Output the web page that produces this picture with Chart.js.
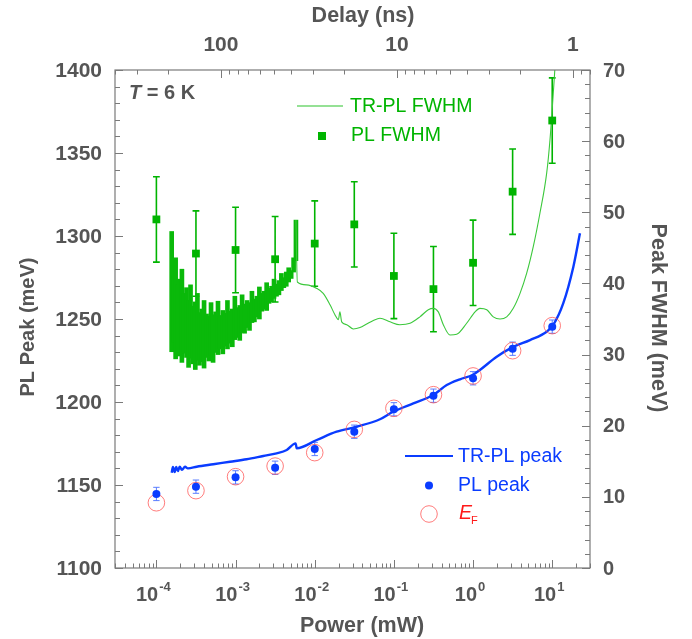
<!DOCTYPE html>
<html lang="en">
<head>
<meta charset="UTF-8" />
<title>PL peak and FWHM vs excitation power</title>
<script src="https://cdn.jsdelivr.net/npm/chart.js"></script>
<style>
  body { margin: 0; background: #fff; }
  #wrap { width: 692px; height: 639px; position: relative; }
</style>
</head>
<body>
<div id="wrap"><canvas id="chart"></canvas></div>

<script>
// steady-state PL, one point per half decade of power (mW)
const plPower   = [1e-4, 3.16e-4, 1e-3, 3.16e-3, 1e-2, 3.16e-2, 0.1, 0.316, 1, 3.16, 10];
const plFwhm    = [49.0, 44.2, 44.7, 43.4, 45.6, 48.3, 41.05, 39.2, 42.9, 52.9, 62.9];
const plFwhmErr = [6, 6, 6, 6, 6, 6, 6, 6, 6, 6, 6];
const plPeak    = [1144.6, 1149.0, 1154.6, 1160.4, 1171.7, 1182.1, 1195.6, 1203.8, 1214.3, 1232.1, 1245.4];
const plPeakErr = [4, 4, 4, 4, 4, 4, 4, 4, 4, 4, 4];
const fermiE    = [1139.3, 1146.6, 1155.0, 1161.4, 1169.5, 1183.5, 1196.2, 1204.4, 1215.7, 1230.9, 1246.0];

// TR-PL FWHM, noisy long-delay part kept as upper / lower envelope
const bandPower = [1.56e-4, 1.65e-4, 1.75e-4, 1.85e-4, 1.95e-4, 2.1e-4, 2.25e-4, 2.4e-4, 2.55e-4, 2.7e-4,
                   2.9e-4, 3.1e-4, 3.3e-4, 3.5e-4, 3.75e-4, 4.0e-4, 4.3e-4, 4.6e-4, 4.9e-4, 5.2e-4,
                   5.6e-4, 6.0e-4, 6.4e-4, 6.9e-4, 7.4e-4, 7.9e-4, 8.5e-4, 9.1e-4, 9.8e-4, 1.05e-3,
                   1.13e-3, 1.21e-3, 1.30e-3, 1.40e-3, 1.50e-3, 1.61e-3, 1.73e-3, 1.86e-3, 2.0e-3, 2.15e-3,
                   2.3e-3, 2.47e-3, 2.65e-3, 2.85e-3, 3.06e-3, 3.29e-3, 3.53e-3, 3.79e-3, 4.07e-3, 4.37e-3,
                   4.69e-3, 5.04e-3, 5.41e-3, 5.79e-3];
const bandUpper = [47.3, 41.0, 43.6, 39.8, 40.6, 42.0, 38.6, 39.4, 37.6, 39.8,
                   36.8, 37.4, 38.6, 35.9, 36.4, 37.6, 35.7, 35.4, 37.3, 35.6,
                   36.0, 37.5, 35.5, 36.2, 35.8, 37.6, 36.1, 36.4, 38.2, 36.6,
                   36.9, 38.4, 37.1, 37.6, 37.3, 38.9, 37.8, 38.2, 39.5, 38.6,
                   38.9, 40.1, 39.3, 39.6, 40.6, 39.9, 40.4, 41.4, 40.8, 41.6,
                   42.2, 41.8, 43.6, 48.9];
const bandLower = [30.4, 31.8, 29.4, 30.6, 29.8, 28.9, 30.2, 29.6, 28.2, 29.5,
                   28.7, 27.9, 29.2, 28.5, 29.0, 28.1, 29.6, 29.1, 29.9, 28.9,
                   30.3, 30.0, 30.8, 30.1, 31.2, 30.8, 31.6, 31.1, 32.1, 32.4,
                   32.0, 33.1, 33.0, 33.8, 33.4, 34.5, 34.6, 35.3, 35.0, 36.1,
                   36.4, 36.2, 37.2, 37.4, 37.9, 38.2, 38.4, 39.0, 39.4, 39.6,
                   40.2, 40.7, 41.6, 43.2];

// TR-PL FWHM, short-delay part
const trFwhmPower = [5.79e-3, 6.03e-3, 7.91e-3, 0.0106, 0.0128, 0.0156, 0.0180, 0.0199, 0.0208, 0.0219,
                     0.0254, 0.0307, 0.0373, 0.0453, 0.0550, 0.0667, 0.0893, 0.119, 0.160, 0.213,
                     0.272, 0.314, 0.364, 0.421, 0.511, 0.621, 0.830, 1.06, 1.22, 1.49,
                     1.80, 2.19, 2.66, 3.22, 3.92, 4.75, 5.77, 7.00, 8.51, 9.37,
                     10.3, 10.8, 11.2];
const trFwhmValue = [48.9, 40.2, 39.8, 39.3, 38.6, 37.0, 35.6, 34.9, 36.0, 34.6,
                     34.2, 33.6, 33.8, 34.3, 34.8, 35.1, 34.6, 34.2, 34.4, 35.3,
                     36.3, 36.5, 36.0, 34.2, 32.75, 32.85, 34.4, 36.0, 36.5, 36.3,
                     35.3, 35.0, 35.3, 36.5, 38.6, 41.4, 45.2, 49.9, 55.5, 60.2,
                     66.7, 70.2, 74.0];

// TR-PL peak position
const trPeakPower = [1.56e-4, 1.62e-4, 1.70e-4, 1.78e-4, 1.87e-4, 1.97e-4, 2.10e-4, 2.30e-4, 2.50e-4, 3.23e-4,
                     5.23e-4, 8.51e-4, 1.38e-3, 2.24e-3, 3.30e-3, 4.43e-3, 5.74e-3, 5.92e-3, 0.0106, 0.0189,
                     0.0339, 0.0667, 0.0982, 0.176, 0.314, 0.465, 0.684, 0.989, 1.22, 1.99,
                     3.13, 5.24, 8.51, 10.3, 13.8, 18.5, 22.4];
const trPeakValue = [1157.4, 1160.9, 1157.8, 1160.9, 1158.4, 1161.0, 1159.1, 1161.0, 1160.0, 1161.0,
                     1162.5, 1164.0, 1165.5, 1167.5, 1169.1, 1171.1, 1175.1, 1172.1, 1177.1, 1182.1,
                     1185.1, 1189.6, 1194.2, 1199.2, 1204.2, 1210.2, 1213.7, 1216.3, 1219.3, 1227.3,
                     1232.9, 1237.3, 1242.3, 1246.4, 1259.5, 1281.5, 1301.6];

// axis ticks
const peakTicks  = [1100, 1150, 1200, 1250, 1300, 1350, 1400];
const fwhmTicks  = [0, 10, 20, 30, 40, 50, 60, 70];
const powerTicks = [1e-4, 1e-3, 1e-2, 1e-1, 1, 10];
const powerExps  = ['-4', '-3', '-2', '-1', '0', '1'];
const delayTicks = [100, 10, 1];

const FONT = '"Liberation Sans", Arial, Helvetica, sans-serif';
const GREY = '#555';
const GREEN = '#00b400';
const BLUE = '#0a3cff';

const pts = (xs, ys) => xs.map((x, i) => ({ x: x, y: ys[i] }));

function errorBars(chart, xs, ys, errs, yId, color, width, cap) {
  const ctx = chart.ctx, sx = chart.scales.x, sy = chart.scales[yId];
  ctx.strokeStyle = color;
  ctx.lineWidth = width;
  ctx.beginPath();
  xs.forEach((v, i) => {
    const x = sx.getPixelForValue(v);
    const y1 = sy.getPixelForValue(ys[i] + errs[i]);
    const y2 = sy.getPixelForValue(ys[i] - errs[i]);
    ctx.moveTo(x, y1); ctx.lineTo(x, y2);
    ctx.moveTo(x - cap, y1); ctx.lineTo(x + cap, y1);
    ctx.moveTo(x - cap, y2); ctx.lineTo(x + cap, y2);
  });
  ctx.stroke();
}

function logMinors(min, max, e0, e1) {
  const out = [];
  for (let e = e0; e <= e1; e++) {
    for (let m = 2; m <= 9; m++) {
      const v = m * Math.pow(10, e);
      if (v >= min * 0.999 && v <= max * 1.001) out.push(v);
    }
  }
  return out;
}

function range(a, b, step) {
  const out = [];
  for (let v = a; v <= b + 1e-9; v += step) out.push(v);
  return out;
}

const framePlugin = {
  id: 'frameAxes',
  beforeDatasetsDraw(chart) {
    const ctx = chart.ctx;
    ctx.save();
    errorBars(chart, plPower, plFwhm, plFwhmErr, 'y2', GREEN, 1.6, 3.4);
    errorBars(chart, plPower, plPeak, plPeakErr, 'y', '#5a7dff', 1, 3.2);
    ctx.restore();
  },
  afterDatasetsDraw(chart) {
    const { ctx, chartArea: a, scales } = chart;
    const sx = scales.x, st = scales.xTop, sy = scales.y, s2 = scales.y2;
    ctx.save();

    // frame
    ctx.strokeStyle = '#7a7a7a';
    ctx.lineWidth = 1.2;
    ctx.strokeRect(a.left, a.top, a.right - a.left, a.bottom - a.top);

    // inward tick marks
    ctx.lineWidth = 1;
    ctx.beginPath();
    const hTick = (s, v, y, dir, len) => {
      const x = Math.round(s.getPixelForValue(v)) + 0.5;
      ctx.moveTo(x, y); ctx.lineTo(x, y + dir * len);
    };
    const vTick = (s, v, x, dir, len) => {
      const y = Math.round(s.getPixelForValue(v)) + 0.5;
      ctx.moveTo(x, y); ctx.lineTo(x + dir * len, y);
    };
    powerTicks.forEach(v => hTick(sx, v, a.bottom, -1, 8));
    logMinors(3e-5, 30, -5, 1).forEach(v => hTick(sx, v, a.bottom, -1, 4.5));
    delayTicks.forEach(v => hTick(st, v, a.top, 1, 8));
    logMinors(0.8, 400, -1, 2).forEach(v => hTick(st, v, a.top, 1, 4.5));
    peakTicks.forEach(v => vTick(sy, v, a.left, 1, 8));
    range(1100, 1400, 10).forEach(v => vTick(sy, v, a.left, 1, 5));
    fwhmTicks.forEach(v => vTick(s2, v, a.right, -1, 8));
    range(0, 70, 2).forEach(v => vTick(s2, v, a.right, -1, 5));
    ctx.stroke();

    // tick labels
    ctx.fillStyle = GREY;
    ctx.textBaseline = 'middle';
    ctx.font = 'bold 21px ' + FONT;
    ctx.textAlign = 'right';
    peakTicks.forEach(v => ctx.fillText(String(v), a.left - 13, sy.getPixelForValue(v) + 1));
    ctx.font = 'bold 20px ' + FONT;
    ctx.textAlign = 'left';
    fwhmTicks.forEach(v => ctx.fillText(String(v), a.right + 13, s2.getPixelForValue(v) + 1));
    ctx.font = 'bold 21px ' + FONT;
    ctx.textAlign = 'center';
    delayTicks.forEach(v => ctx.fillText(String(v), st.getPixelForValue(v), 45));

    ctx.textAlign = 'left';
    powerTicks.forEach((v, i) => {
      ctx.font = 'bold 20px ' + FONT;
      const w1 = ctx.measureText('10').width;
      ctx.font = 'bold 13px ' + FONT;
      const w2 = ctx.measureText(powerExps[i]).width;
      const x0 = sx.getPixelForValue(v) - (w1 + w2 + 1) / 2 - 3;
      ctx.font = 'bold 20px ' + FONT;
      ctx.fillText('10', x0, 595);
      ctx.font = 'bold 13px ' + FONT;
      ctx.fillText(powerExps[i], x0 + w1 + 1, 587);
    });

    // axis titles
    ctx.font = 'bold 21.5px ' + FONT;
    ctx.textAlign = 'center';
    ctx.fillText('Delay (ns)', 363, 16);
    ctx.fillText('Power (mW)', 362, 626);
    ctx.save();
    ctx.font = 'bold 20px ' + FONT;
    ctx.translate(28, 327);
    ctx.rotate(-Math.PI / 2);
    ctx.fillText('PL Peak (meV)', 0, 0);
    ctx.restore();
    ctx.save();
    ctx.translate(658, 318);
    ctx.rotate(Math.PI / 2);
    ctx.fillText('Peak FWHM (meV)', 0, 0);
    ctx.restore();

    // temperature note
    ctx.textAlign = 'left';
    ctx.font = 'italic bold 20px ' + FONT;
    ctx.fillText('T', 129, 93);
    const tw = ctx.measureText('T').width;
    ctx.font = 'bold 20px ' + FONT;
    ctx.fillText(' = 6 K', 129 + tw, 93);

    // FWHM legend
    ctx.font = '19.5px ' + FONT;
    ctx.strokeStyle = '#2cc42c';
    ctx.lineWidth = 1.1;
    ctx.beginPath(); ctx.moveTo(297, 106); ctx.lineTo(343, 106); ctx.stroke();
    ctx.fillStyle = GREEN;
    ctx.fillText('TR-PL FWHM', 350, 107);
    ctx.fillRect(318, 132, 8, 8);
    ctx.fillText('PL FWHM', 351, 136);

    // peak legend
    ctx.strokeStyle = BLUE;
    ctx.lineWidth = 2.2;
    ctx.beginPath(); ctx.moveTo(405, 456); ctx.lineTo(453, 456); ctx.stroke();
    ctx.fillStyle = BLUE;
    ctx.fillText('TR-PL peak', 458, 457);
    ctx.beginPath(); ctx.arc(429, 485.5, 4, 0, Math.PI * 2); ctx.fill();
    ctx.fillText('PL peak', 458, 486);
    ctx.strokeStyle = 'rgba(255,80,80,0.75)';
    ctx.lineWidth = 1;
    ctx.beginPath(); ctx.arc(429, 514, 8.3, 0, Math.PI * 2); ctx.stroke();
    ctx.fillStyle = '#ff1a1a';
    ctx.font = 'italic 19.5px ' + FONT;
    ctx.fillText('E', 459, 514);
    ctx.font = '11px ' + FONT;
    ctx.fillText('F', 471, 521);

    ctx.restore();
  }
};

new Chart(document.getElementById('chart'), {
  type: 'line',
  data: {
    datasets: [
      {
        // noisy band: one floating bar per sample, spanning lower to upper
        type: 'bar', label: 'TR-PL FWHM band',
        data: pts(bandPower, bandLower.map((lo, i) => [lo, bandUpper[i]])),
        yAxisID: 'y2', backgroundColor: '#0ab90a', borderWidth: 0,
        barThickness: 4, grouped: false, order: 8
      },
      {
        label: 'TR-PL FWHM', data: pts(trFwhmPower, trFwhmValue),
        yAxisID: 'y2', borderColor: '#3cc83c', borderWidth: 1.1,
        pointRadius: 0, cubicInterpolationMode: 'monotone', fill: false, order: 6
      },
      {
        label: 'PL FWHM', data: pts(plPower, plFwhm),
        yAxisID: 'y2', showLine: false, pointStyle: 'rect',
        pointRadius: 5.5, backgroundColor: GREEN, borderWidth: 0, order: 5
      },
      {
        label: 'TR-PL peak', data: pts(trPeakPower, trPeakValue),
        yAxisID: 'y', borderColor: BLUE, borderWidth: 2.4,
        pointRadius: 0, cubicInterpolationMode: 'monotone', fill: false, order: 4
      },
      {
        label: 'E_F', data: pts(plPower, fermiE),
        yAxisID: 'y', showLine: false, pointStyle: 'circle', pointRadius: 8.3,
        backgroundColor: 'rgba(0,0,0,0)', borderColor: 'rgba(255,80,80,0.75)',
        borderWidth: 1, order: 3
      },
      {
        label: 'PL peak', data: pts(plPower, plPeak),
        yAxisID: 'y', showLine: false, pointRadius: 4,
        backgroundColor: BLUE, borderWidth: 0, order: 2
      }
    ]
  },
  options: {
    responsive: true,
    maintainAspectRatio: false,
    animation: false,
    layout: { padding: { left: 115, right: 102, top: 70, bottom: 71 } },
    plugins: { legend: { display: false }, tooltip: { enabled: false } },
    scales: {
      x:    { type: 'logarithmic', position: 'bottom', min: 3e-5, max: 30, offset: false, display: false },
      xTop: { type: 'logarithmic', axis: 'x', position: 'top', min: 0.8, max: 400, reverse: true, display: false },
      y:    { type: 'linear', position: 'left', min: 1100, max: 1400, display: false },
      y2:   { type: 'linear', position: 'right', min: 0, max: 70, display: false }
    }
  },
  plugins: [framePlugin]
});
</script>
</body>
</html>
